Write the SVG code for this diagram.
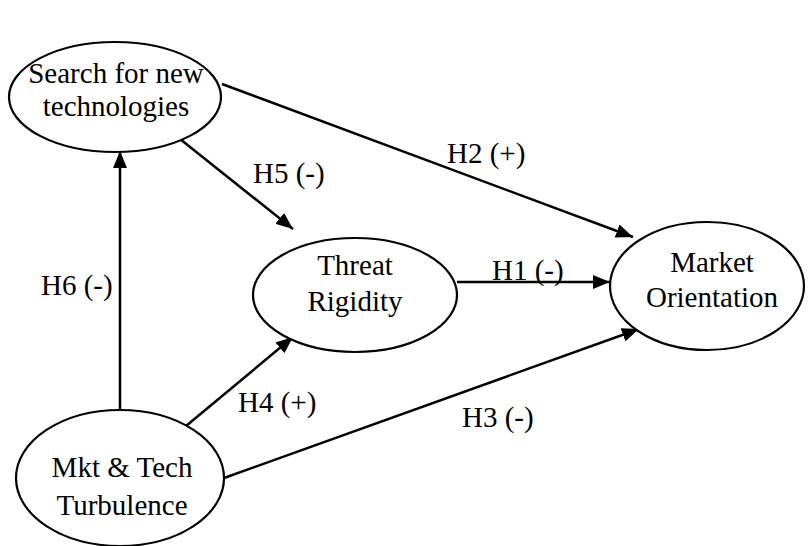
<svg xmlns="http://www.w3.org/2000/svg" width="808" height="546" viewBox="0 0 808 546">
  <style>
    .node ellipse { fill: #ffffff; stroke: #000000; stroke-width: 2.2; }
    text { font-family: 'Liberation Serif', 'Times New Roman', Tinos, 'DejaVu Serif', serif; font-size: 29px; fill: #000000; }
    .node text { text-anchor: middle; }
    .edge { stroke: #000000; stroke-width: 2.5; fill: none; marker-end: url(#arrow); }
  </style>
  <defs>
    <marker id="arrow" markerUnits="userSpaceOnUse" markerWidth="18" markerHeight="14" refX="17" refY="7" orient="auto">
      <path d="M0,0 L17,7 L0,14 z" fill="#000000"/>
    </marker>
  </defs>

  <rect width="808" height="546" fill="#ffffff"/>

  <!-- connectors -->
  <g id="connectors">
    <line class="edge" x1="120" y1="410" x2="120" y2="151"/>
    <line class="edge" x1="180" y1="139" x2="293" y2="229"/>
    <line class="edge" x1="222" y1="84" x2="633" y2="237"/>
    <line class="edge" x1="457" y1="282" x2="610" y2="282"/>
    <line class="edge" x1="186" y1="426" x2="293" y2="337"/>
    <line class="edge" x1="224" y1="478" x2="639" y2="329"/>
  </g>

  <!-- hypothesis labels -->
  <g id="labels">
    <text x="41" y="295">H6 (-)</text>
    <text x="253" y="183">H5 (-)</text>
    <text x="447" y="163">H2 (+)</text>
    <text x="492" y="280">H1 (-)</text>
    <text x="238" y="412">H4 (+)</text>
    <text x="462" y="427">H3 (-)</text>
  </g>

  <g id="search" class="node">
    <ellipse cx="115" cy="97" rx="106" ry="55"/>
    <text x="116" y="83">Search for new</text>
    <text x="116" y="116">technologies</text>
  </g>

  <g id="threat" class="node">
    <ellipse cx="355" cy="295" rx="102" ry="57"/>
    <text x="355" y="275">Threat</text>
    <text x="355" y="311">Rigidity</text>
  </g>

  <g id="market" class="node">
    <ellipse cx="707" cy="286" rx="97" ry="64"/>
    <text x="712" y="272">Market</text>
    <text x="712" y="307">Orientation</text>
  </g>

  <g id="turbulence" class="node">
    <ellipse cx="120" cy="478" rx="104" ry="68"/>
    <text x="122" y="477">Mkt &amp; Tech</text>
    <text x="122" y="515">Turbulence</text>
  </g>
</svg>
